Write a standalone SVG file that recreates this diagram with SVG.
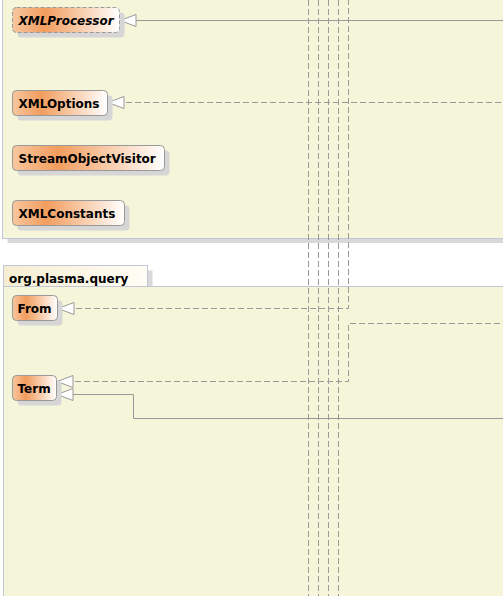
<svg xmlns="http://www.w3.org/2000/svg" width="503" height="596" viewBox="0 0 503 596">
<style>
.pkg{fill:#F5F5DA;stroke:#C2C6D8;stroke-width:1}
.pshadow{fill:#D9D9D9}
.node{fill:url(#ng);stroke:#999999;stroke-width:1}
.abstract{stroke-dasharray:4 2}
.nshadow{fill:#D6D6D6}
.lbl{font-family:"DejaVu Sans",Verdana,sans-serif;font-weight:bold;font-size:12px;fill:#000}
.it{font-style:italic}
.conn{fill:none;stroke:#999999;stroke-width:1}
.dash{stroke-dasharray:6 3}
</style>
<defs>
<linearGradient id="ng" x1="0" y1="0" x2="1" y2="0">
<stop offset="0" stop-color="#F7C7A0"/>
<stop offset="0.3" stop-color="#F29D5E"/>
<stop offset="1" stop-color="#FFFFFF"/>
</linearGradient>
<linearGradient id="tg" x1="0" y1="0" x2="1" y2="0">
<stop offset="0" stop-color="#F6EDD2"/>
<stop offset="1" stop-color="#FFFDF5"/>
</linearGradient>
<marker id="tri" markerUnits="userSpaceOnUse" viewBox="-1 -7 18 14" refX="0" refY="0" markerWidth="18" markerHeight="14" orient="auto">
<path d="M0,0 L16,-6 L16,6 Z" fill="#FFFFFF" stroke="#999999" stroke-width="1"/>
</marker>
</defs>
<rect width="503" height="596" fill="#FFFFFF"/>
<g id="pkg-top">
<rect class="pshadow" x="7.5" y="-15" width="520" height="258"/>
<rect class="pkg" x="2.5" y="-20" width="520" height="258.5"/>
</g>
<g id="pkg-query">
<rect class="pshadow" x="147.5" y="270.5" width="5" height="16"/>
<rect x="3.5" y="265.5" width="144" height="21" fill="url(#tg)" stroke="#C2C6D8"/>
<text class="lbl" x="9" y="283">org.plasma.query</text>
<rect class="pkg" x="3.5" y="286.5" width="520" height="330"/>
</g>
<g id="connectors">
<path class="conn" d="M120,20.5 L503,20.5" marker-start="url(#tri)"/>
<path class="conn dash" d="M108,102.5 L503,102.5" marker-start="url(#tri)"/>
<path class="conn dash" d="M308.5,0 L308.5,596"/>
<path class="conn dash" d="M318.5,0 L318.5,596"/>
<path class="conn dash" d="M328.5,0 L328.5,596"/>
<path class="conn dash" d="M338.5,0 L338.5,596"/>
<path class="conn dash" d="M58,308.5 L348.5,308.5 L348.5,0" marker-start="url(#tri)"/>
<path class="conn dash" d="M57,381.5 L348.5,381.5 L348.5,323.5 L503,323.5" marker-start="url(#tri)"/>
<path class="conn" d="M57,394.5 L133.5,394.5 L133.5,418.5 L503,418.5" marker-start="url(#tri)"/>
</g>
<g id="XMLProcessor">
<rect class="nshadow" x="17.5" y="12.5" width="107" height="25" rx="4"/>
<rect class="node abstract" x="12.5" y="7.5" width="107" height="25" rx="4"/>
<text class="lbl it" x="18.5" y="25">XMLProcessor</text>
</g>
<g id="XMLOptions">
<rect class="nshadow" x="17.5" y="95.5" width="95" height="25" rx="4"/>
<rect class="node" x="12.5" y="90.5" width="95" height="25" rx="4"/>
<text class="lbl" x="18.5" y="108">XMLOptions</text>
</g>
<g id="StreamObjectVisitor">
<rect class="nshadow" x="17.5" y="150.5" width="152" height="25" rx="4"/>
<rect class="node" x="12.5" y="145.5" width="152" height="25" rx="4"/>
<text class="lbl" x="18.5" y="163">StreamObjectVisitor</text>
</g>
<g id="XMLConstants">
<rect class="nshadow" x="17.5" y="205.5" width="112" height="25" rx="4"/>
<rect class="node" x="12.5" y="200.5" width="112" height="25" rx="4"/>
<text class="lbl" x="18.5" y="218">XMLConstants</text>
</g>
<g id="From">
<rect class="nshadow" x="17.5" y="300.5" width="45" height="25" rx="4"/>
<rect class="node" x="12.5" y="295.5" width="45" height="25" rx="4"/>
<text class="lbl" x="17.5" y="313">From</text>
</g>
<g id="Term">
<rect class="nshadow" x="17.5" y="380.5" width="44" height="25" rx="4"/>
<rect class="node" x="12.5" y="375.5" width="44" height="25" rx="4"/>
<text class="lbl" x="17.5" y="393">Term</text>
</g>
</svg>
